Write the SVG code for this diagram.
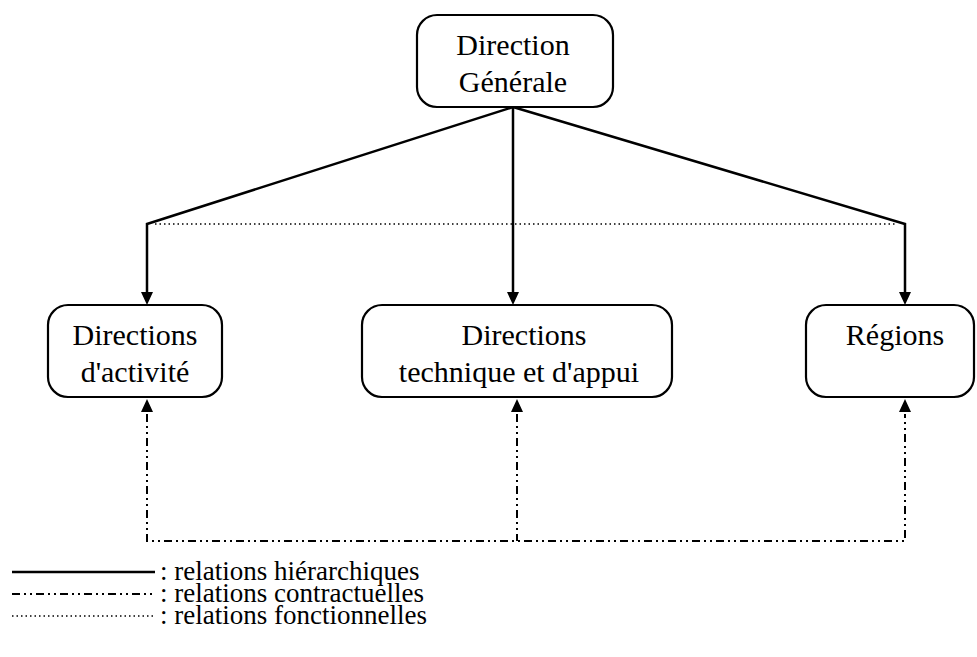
<svg xmlns="http://www.w3.org/2000/svg" width="977" height="657" viewBox="0 0 977 657">
<style>
.box{fill:#fff;stroke:#000;stroke-width:2.2}
.t{font-family:'Liberation Serif','Times New Roman',serif;font-size:30px;fill:#000;text-anchor:middle}
.lg{font-family:'Liberation Serif','Times New Roman',serif;font-size:27px;fill:#000}
.h{fill:none;stroke:#000;stroke-width:2.5}
.c{fill:none;stroke:#000;stroke-width:2;stroke-dasharray:8 4 2 4 2 4}
.f{fill:none;stroke:#000;stroke-width:1.3;stroke-dasharray:1.5 3}
.ah{fill:#000}
</style>
<g id="connectors">
<path class="h" d="M513,107 L147,224 L147,294"/>
<path class="h" d="M513,107 L513,294"/>
<path class="h" d="M513,107 L905,224 L905,294"/>
<path class="ah" d="M141,292 L153,292 L147,305 Z M507,292 L519,292 L513,305 Z M899,292 L911,292 L905,305 Z"/>
<path class="f" d="M155,224 L897,224"/>
<path class="c" d="M147,414 L147,541 L905,541 L905,414"/>
<path class="c" d="M517,414 L517,541"/>
<path class="ah" d="M141,412 L153,412 L147,399 Z M511,412 L523,412 L517,399 Z M899,412 L911,412 L905,399 Z"/>
</g>
<g id="dg">
<rect class="box" x="417" y="15" width="196" height="92" rx="20"/>
<text class="t" x="513" y="55">Direction</text>
<text class="t" x="513" y="92">Générale</text>
</g>
<g id="da">
<rect class="box" x="48" y="305" width="174" height="92" rx="20"/>
<text class="t" x="135" y="345">Directions</text>
<text class="t" x="135" y="382">d'activité</text>
</g>
<g id="dt">
<rect class="box" x="362" y="305" width="310" height="92" rx="20"/>
<text class="t" x="524" y="345">Directions</text>
<text class="t" x="519" y="382">technique et d'appui</text>
</g>
<g id="rg">
<rect class="box" x="806" y="305" width="168" height="92" rx="20"/>
<text class="t" x="895" y="345">Régions</text>
</g>
<g id="legend">
<line class="h" x1="12" y1="572" x2="155" y2="572" stroke-width="1.8"/>
<line class="c" x1="12" y1="594" x2="155" y2="594"/>
<line class="f" x1="12" y1="616" x2="155" y2="616"/>
<text class="lg" x="160" y="580">: relations hiérarchiques</text>
<text class="lg" x="160" y="602">: relations contractuelles</text>
<text class="lg" x="160" y="624">: relations fonctionnelles</text>
</g>
</svg>
